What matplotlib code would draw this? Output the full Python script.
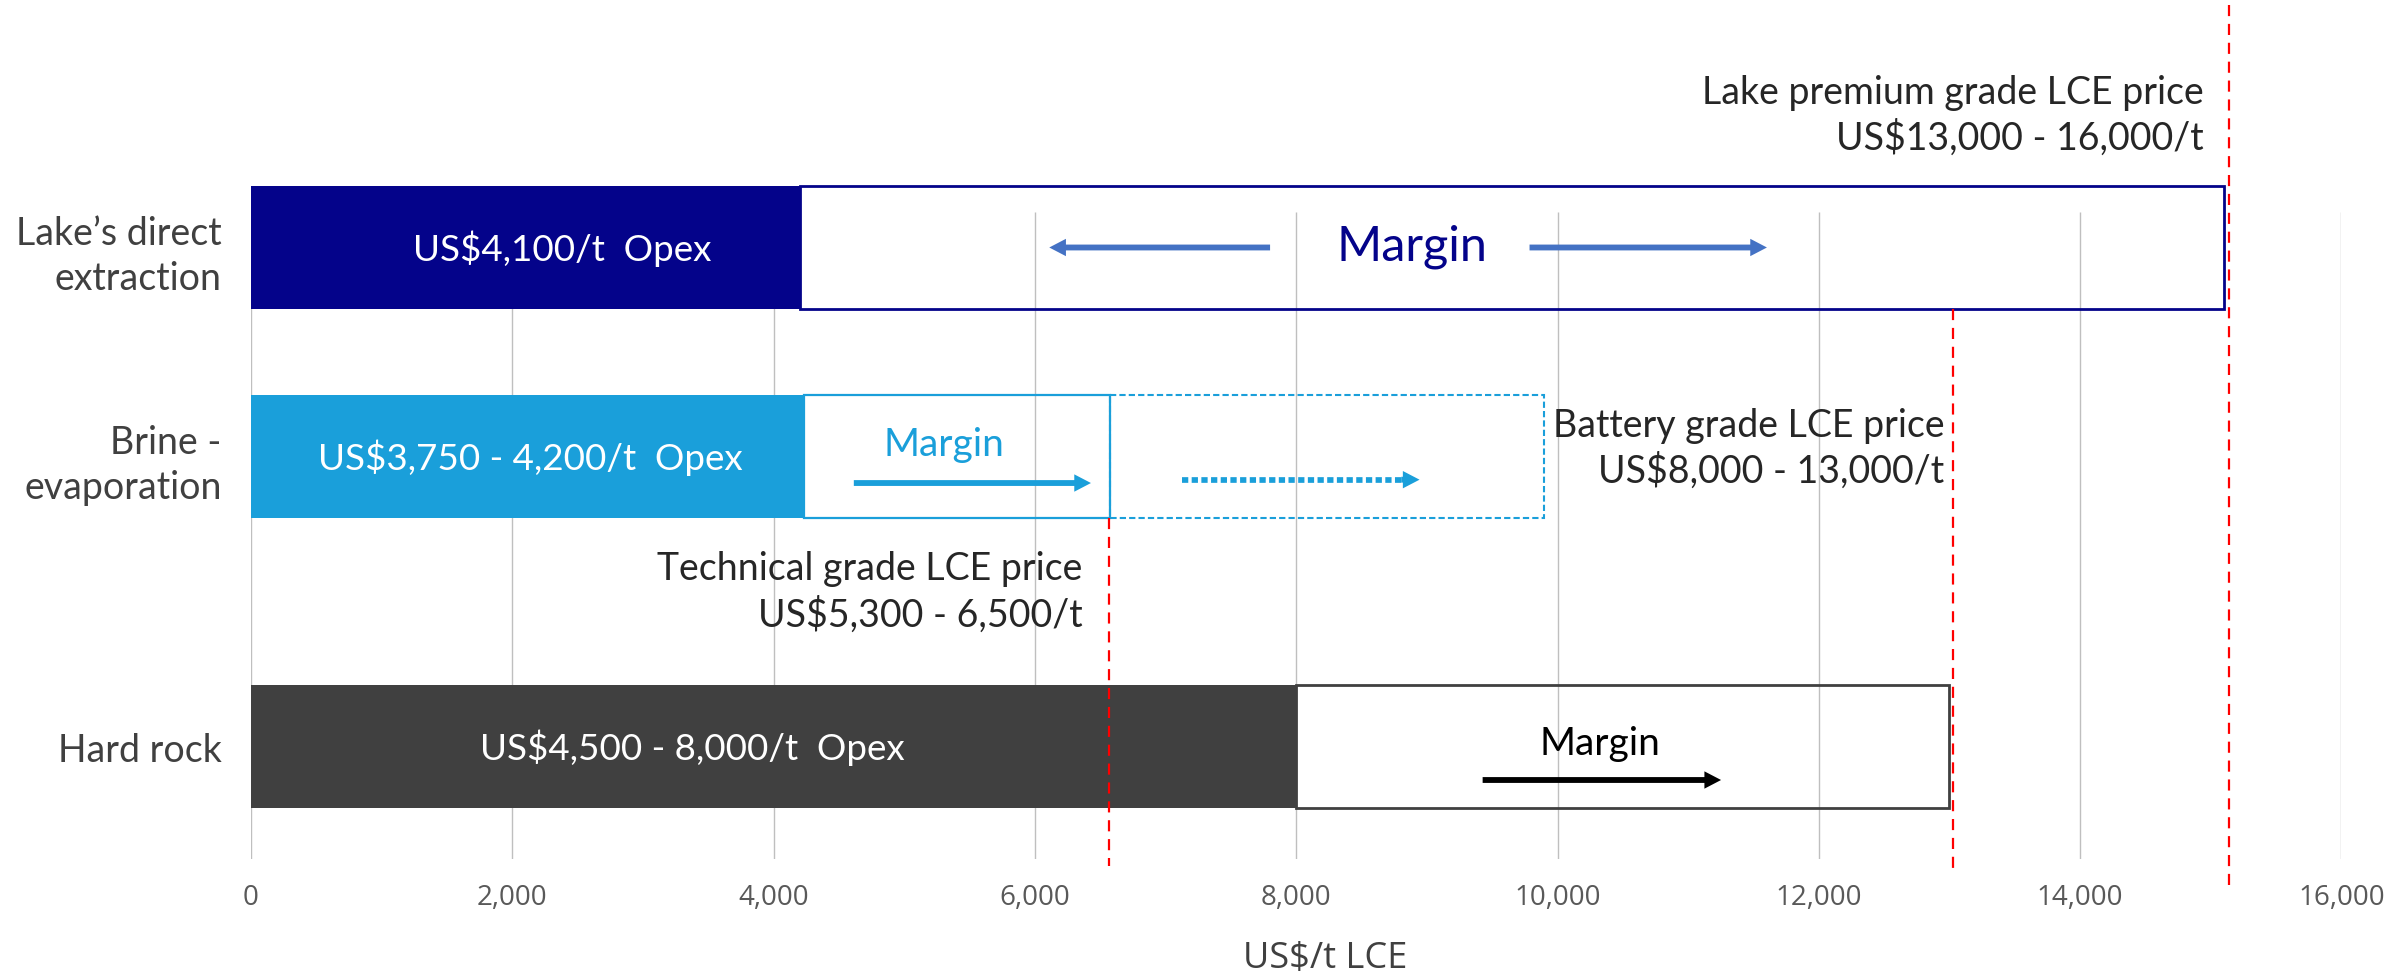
import numpy as np
import matplotlib.pyplot as plt
from matplotlib.ticker import FuncFormatter

plt.rcParams['font.family'] = ['Lato', 'DejaVu Sans']
plt.rcParams['text.parse_math'] = False

# Dados (US$/t LCE)
routes = ["Lake\u2019s direct\nextraction", "Brine -\nevaporation", "Hard rock"]
opex = [4200, 4230, 8000]
margin_end = [15100, 6575, 13000]
brine_upside_end = 9900
opex_labels = ["US$4,100/t  Opex", "US$3,750 - 4,200/t  Opex", "US$4,500 - 8,000/t  Opex"]
price_lines = [6570, 13030, 15140]
price_labels = [
    "Technical grade LCE price\nUS$5,300 - 6,500/t",
    "Battery grade LCE price\nUS$8,000 - 13,000/t",
    "Lake premium grade LCE price\nUS$13,000 - 16,000/t",
]
x_ticks = np.arange(0, 16001, 2000)

# Layout
row_y = [0, 1, 2.388]
bar_h = 0.59
ylim = (2.926, -1.189)
bar_colors = ['#04038A', '#1A9FDA', '#404040']
text_dark = '#262626'

# setas: (inicio, ponta, deslocamento vertical, cor, pontilhada)
arrows = [
    (7800, 6110, 0.0, '#4472C4', False),
    (9786, 11603, 0.0, '#4472C4', False),
    (4614, 6429, 0.127, '#1A9FDA', False),
    (7123, 8944, 0.111, '#1A9FDA', True),
    (9427, 11252, 0.16, 'black', False),
]
arrow_row = [0, 0, 1, 1, 2]

fig = plt.figure(figsize=(23.99, 9.79), dpi=100, facecolor='white')
ax = fig.add_axes([251 / 2399, 119 / 979, 2090.4 / 2399, 860 / 979])
ax.set_xlim(0, 16000)
ax.set_ylim(*ylim)

# Grade vertical
ax.vlines(x_ticks, -0.17, ylim[0], color='#BFBFBF', lw=1, zorder=0)

# Barras de Opex
ax.barh(row_y, opex, height=bar_h, color=bar_colors, zorder=2)

# Caixas de margem
widths = [m - o for m, o in zip(margin_end, opex)]
for i in range(3):
    ax.barh(row_y[i], widths[i], left=opex[i], height=bar_h, facecolor='none',
            edgecolor=bar_colors[i], lw=2.0 if i != 1 else 1.6, zorder=3)
ax.barh(row_y[1], brine_upside_end - margin_end[1], left=margin_end[1], height=bar_h,
        facecolor='none', edgecolor=bar_colors[1], lw=1.5, linestyle=(0, (3, 1.5)), zorder=3)

# Rótulos das barras
opex_label_x = [2380, 2137, 3376]
for i in range(3):
    ax.text(opex_label_x[i], row_y[i], opex_labels[i], ha='center', va='center',
            color='white', fontsize=26.5, zorder=5)

ax.text(8884, row_y[0] - 0.01, "Margin", ha='center', va='center', color='#04038A', fontsize=35, zorder=5)
ax.text(5305, row_y[1] - 0.06, "Margin", ha='center', va='center', color='#1A9FDA', fontsize=28,
        zorder=5)
ax.text(10322, row_y[2] - 0.015, "Margin", ha='center', va='center', color='black', fontsize=28,
        zorder=5)

# Setas
head_len = 140
style = 'simple,head_length=1.2,head_width=1.25,tail_width=0.42'
for (x0, x1, dy, color, dotted), r in zip(arrows, arrow_row):
    y = row_y[r] + dy
    if dotted:
        ax.plot([x0, x1 - head_len + 20], [y, y], color=color, lw=4.1,
                linestyle=(0, (1.1, 0.6)), zorder=4)
        start = x1 - head_len
    else:
        start = x0
    ax.annotate('', xy=(x1, y), xytext=(start, y), zorder=4,
                arrowprops=dict(arrowstyle=style, color=color, mutation_scale=10,
                                shrinkA=0, shrinkB=0, lw=0))

# Linhas de preço
line_spans = [(1.295, 2.96), (0.294, 2.98), (-1.16, 3.07)]
for x, (y0, y1) in zip(price_lines, line_spans):
    ax.plot([x, x], [y0, y1], color='#FF0000', lw=1.6, linestyle=(0, (5, 3.5)),
            zorder=6, clip_on=False)

price_text_x = [6367, 12963, 14948]
price_text_y = [1.81, 1.122, -0.471]
for x, y, lab in zip(price_text_x, price_text_y, price_labels):
    ax.text(x, y, lab, ha='right', va='baseline', multialignment='right', fontsize=27,
            color=text_dark, linespacing=1.3, zorder=5)

# Eixos
for s in ax.spines.values():
    s.set_visible(False)
ax.set_xticks(x_ticks)
ax.xaxis.set_major_formatter(FuncFormatter(lambda v, p: f"{int(v):,}"))
ax.tick_params(axis='x', length=0, pad=17, labelsize=20, labelcolor='#595959')
for t in ax.get_xticklabels():
    t.set_fontfamily('Open Sans')
ax.set_yticks(row_y)
ax.set_yticklabels(routes, fontsize=27, color='#404040', linespacing=1.3)
ax.tick_params(axis='y', length=0, pad=21)
ax.set_xlabel("US$/t LCE", fontsize=26, color='#404040', labelpad=21, fontfamily='Open Sans')
ax.xaxis.label.set_x(8220 / 16000)

plt.savefig("out.png", dpi=100, facecolor='white')
